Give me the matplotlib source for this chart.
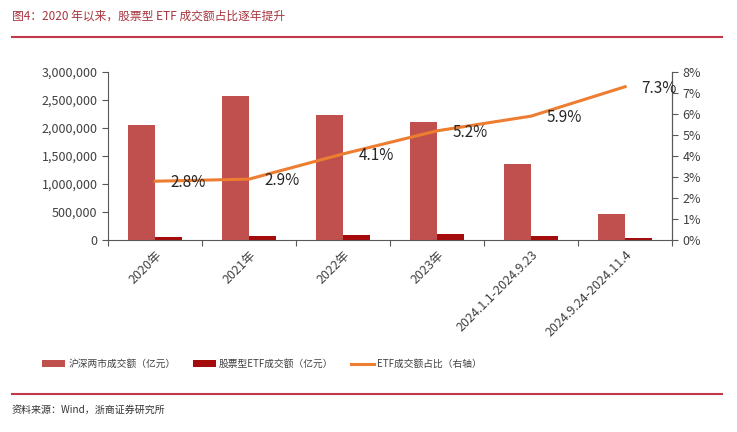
import matplotlib
matplotlib.use('Agg')
import matplotlib.pyplot as plt
from matplotlib.ticker import FuncFormatter, FixedLocator
import matplotlib.transforms as mtrans
import numpy as np

plt.rcParams['font.family'] = ['Noto Sans CJK SC', 'DejaVu Sans']

CATEGORIES = ['2020年', '2021年', '2022年', '2023年', '2024.1.1-2024.9.23', '2024.9.24-2024.11.4']
MARKET_TURNOVER = [2050000, 2570000, 2230000, 2110000, 1357000, 464000]
ETF_TURNOVER = [57000, 75000, 91000, 110000, 80000, 34000]
ETF_SHARE = [2.8, 2.9, 4.1, 5.2, 5.9, 7.3]
SHARE_LABELS = ['2.8%', '2.9%', '4.1%', '5.2%', '5.9%', '7.3%']

C_MARKET = '#C0504D'
C_ETF = '#A50B0B'
C_LINE = '#ED7D31'
C_RED = '#C0384A'
C_TEXT = '#404040'

fig = plt.figure(figsize=(7.37, 4.32), dpi=100)
ax = fig.add_axes([0.1465, 0.4444, 0.7655, 0.3889])
ax2 = ax.twinx()

x = np.arange(len(CATEGORIES))
w = 0.287
ax.bar(x - w / 2, MARKET_TURNOVER, w, color=C_MARKET, label='沪深两市成交额（亿元）', zorder=2)
ax.bar(x + w / 2, ETF_TURNOVER, w, color=C_ETF, label='股票型ETF成交额（亿元）', zorder=2)
ln, = ax2.plot(x, ETF_SHARE, color=C_LINE, lw=2.2, label='ETF成交额占比（右轴）')
for xi, yi, s in zip(x, ETF_SHARE, SHARE_LABELS):
    ax2.annotate(s, (xi, yi), xytext=(24, -1), textcoords='offset points',
                 ha='center', va='center', fontsize=11, color='#262626')

ax.set_xlim(-0.5, len(CATEGORIES) - 0.5)
ax.set_ylim(0, 3000000)
ax.set_yticks(np.arange(0, 3000001, 500000))
ax.yaxis.set_major_formatter(FuncFormatter(lambda v, p: f'{int(v):,}'))
ax2.set_ylim(0, 8)
ax2.set_yticks(np.arange(0, 9, 1))
ax2.yaxis.set_major_formatter(FuncFormatter(lambda v, p: f'{int(v)}%'))

# ticks between categories, labels at centers
ax.xaxis.set_major_locator(FixedLocator(np.arange(-0.5, len(CATEGORIES), 1)))
ax.set_xticklabels([])
ax.set_xticks(x, minor=True)
ax.set_xticklabels(CATEGORIES, minor=True, rotation=45, ha='right', rotation_mode='anchor',
                   fontsize=9, color=C_TEXT)
shift = mtrans.ScaledTranslation(-5 / 100, -2 / 100, fig.dpi_scale_trans)
for lab in ax.xaxis.get_minorticklabels():
    lab.set_transform(lab.get_transform() + shift)
ax.tick_params(axis='x', which='minor', length=0, pad=6)
ax.tick_params(axis='x', which='major', length=4, direction='out', color='#595959')
ax.tick_params(axis='y', labelsize=9, labelcolor=C_TEXT, length=4, color='#595959')
ax2.tick_params(axis='y', labelsize=9, labelcolor=C_TEXT, length=4, color='#595959')

for a in (ax, ax2):
    a.spines['top'].set_visible(False)
    for s in ('left', 'right', 'bottom'):
        a.spines[s].set_color('#595959')
ax2.spines['left'].set_visible(False)
ax2.spines['bottom'].set_visible(False)

h1, l1 = ax.get_legend_handles_labels()
fig.legend(h1 + [ln], l1 + [ln.get_label()], loc='center', ncol=3,
           bbox_to_anchor=(262 / 737, 1 - 364 / 432), frameon=False, fontsize=7,
           handlelength=2.4, handleheight=0.6, columnspacing=1.8, handletextpad=0.3,
           labelcolor=C_TEXT)

fig.text(12 / 737, 1 - 16 / 432, '图4：2020 年以来，股票型 ETF 成交额占比逐年提升',
         fontsize=8.5, color='#A8343E', va='center', ha='left')
fig.add_artist(plt.Line2D([12 / 737, 722 / 737], [1 - 37 / 432] * 2, color=C_RED, lw=1.5))
fig.add_artist(plt.Line2D([12 / 737, 722 / 737], [1 - 394 / 432] * 2, color=C_RED, lw=1.5))
fig.text(12 / 737, 1 - 410 / 432, '资料来源：Wind，浙商证券研究所', fontsize=7.2,
         color='#333333', va='center', ha='left')

fig.savefig('out.png', dpi=100)
